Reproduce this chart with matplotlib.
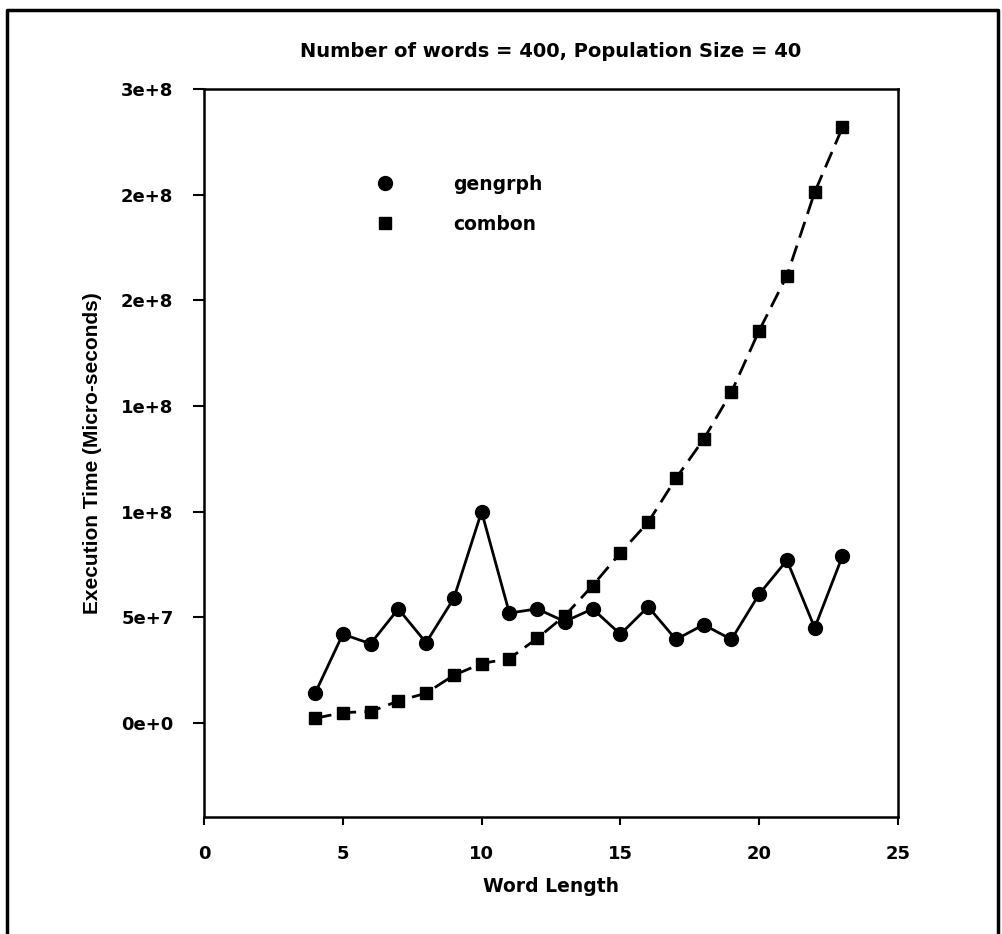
import numpy as np
import matplotlib
matplotlib.use("Agg")
import matplotlib.pyplot as plt
from matplotlib.lines import Line2D

plt.rcParams['font.family'] = ['DejaVu Sans']
plt.rcParams['font.weight'] = 'bold'

# data
word_length = [4, 5, 6, 7, 8, 9, 10, 11, 12, 13, 14, 15, 16, 17, 18, 19, 20, 21, 22, 23]
gengrph = [1.4e7, 4.2e7, 3.75e7, 5.4e7, 3.8e7, 5.9e7, 1.0e8, 5.2e7, 5.4e7, 4.8e7,
           5.4e7, 4.2e7, 5.5e7, 3.95e7, 4.65e7, 3.95e7, 6.1e7, 7.7e7, 4.5e7, 7.9e7]
combon = [2.2e6, 4.9e6, 5.4e6, 1.04e7, 1.41e7, 2.26e7, 2.81e7, 3.05e7, 4.0e7, 5.08e7,
          6.5e7, 8.05e7, 9.5e7, 1.157e8, 1.343e8, 1.566e8, 1.857e8, 2.117e8, 2.512e8, 2.818e8]
y_ticks = [0, 5e7, 1e8, 1.5e8, 2e8, 2.5e8, 3e8]
y_labels = ['0e+0', '5e+7', '1e+8', '1e+8', '2e+8', '2e+8', '3e+8']
x_ticks = [0, 5, 10, 15, 20, 25]

fig = plt.figure(figsize=(10.03, 9.34), dpi=100)
ax = fig.add_axes([204/1003, 1-817/934, 694/1003, 728/934])

ax.plot(word_length, gengrph, color='black', lw=2, marker='o', ms=10, label='gengrph')
ax.plot(word_length, combon, color='black', lw=2, ls=(0, (6, 3)), marker='s', ms=9,
        label='combon')

ax.set_xlim(0, 25)
ax.set_ylim(-4.45e7, 3e8)
ax.set_xticks(x_ticks)
ax.set_yticks(y_ticks)
ax.set_yticklabels(y_labels)
ax.tick_params(direction='out', length=8, width=1.5, labelsize=13)
ax.tick_params(axis='y', pad=14)
ax.tick_params(axis='x', pad=14, length=6)
for s in ax.spines.values():
    s.set_linewidth(1.8)

ax.set_xlabel('Word Length', fontsize=13.5, fontweight='bold', labelpad=10)
ax.set_ylabel('Execution Time (Micro-seconds)', fontsize=15, fontweight='bold',
              family='Liberation Sans', labelpad=14)
ax.set_title('Number of words = 400, Population Size = 40', fontsize=14,
             fontweight='bold', pad=23)

handles = [Line2D([], [], color='black', marker='o', ms=10, ls='none'),
           Line2D([], [], color='black', marker='s', ms=9, ls='none')]
ax.legend(handles, ['gengrph', 'combon'], loc='upper left', bbox_to_anchor=(0.21, 0.905),
          frameon=False, fontsize=13.5, handletextpad=2.6, labelspacing=1.1)

# outer border (open at the bottom edge of the image)
fig.add_artist(Line2D([7/1003, 7/1003, 998/1003, 998/1003], [0, 1-10/934, 1-10/934, 0],
                      transform=fig.transFigure, color='black', lw=2.5))

fig.savefig('out.png', dpi=100)
